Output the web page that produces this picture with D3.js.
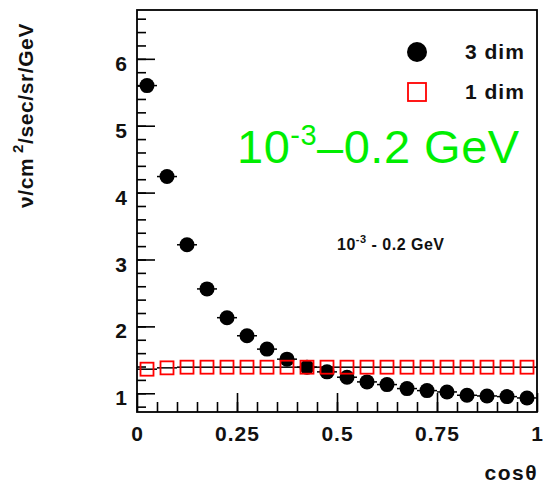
<!DOCTYPE html>
<html>
<head>
<meta charset="utf-8">
<script src="https://cdn.jsdelivr.net/npm/d3@7"></script>
<style>
  body { margin: 0; background: #fff; }
  text { font-family: "Liberation Sans", Arial, Helvetica, sans-serif; }
</style>
</head>
<body>
<div id="chart"></div>
<script>
// Plot size and margins (frame sits at x 137..537, y 10..412)
const width = 543;
const height = 484;
const margin = {left: 137, right: 6, top: 10, bottom: 72};

// bin centres of cos(theta)
const cosTheta = [0.025, 0.075, 0.125, 0.175, 0.225, 0.275, 0.325, 0.375, 0.425, 0.475,
                  0.525, 0.575, 0.625, 0.675, 0.725, 0.775, 0.825, 0.875, 0.925, 0.975];
// 3 dim flux (black points)
const flux3d = [5.60, 4.24, 3.22, 2.56, 2.13, 1.86, 1.66, 1.51, 1.39, 1.32,
                1.24, 1.17, 1.13, 1.07, 1.04, 1.02, 0.97, 0.96, 0.95, 0.93];
// 1 dim flux (red open squares)
const flux1d = [1.36, 1.38, 1.39, 1.39, 1.39, 1.39, 1.39, 1.39, 1.39, 1.39,
                1.39, 1.39, 1.39, 1.39, 1.39, 1.39, 1.39, 1.39, 1.39, 1.39];
const binHalf = 0.025;

const xTicks = [0, 0.25, 0.5, 0.75, 1];
const xTickLabels = ["0", "0.25", "0.5", "0.75", "1"];
const yTicks = [1, 2, 3, 4, 5, 6];

const svg = d3.select("#chart")
  .append("svg")
  .attr("width", width)
  .attr("height", height);

// scales
const x = d3.scaleLinear()
  .domain([0, 1])
  .range([margin.left, width - margin.right]);

const y = d3.scaleLinear()
  .domain([0.72, 6.73])
  .range([height - margin.bottom, margin.top]);

/*
  Axes
*/

// minor ticks on y
svg.append("g")
  .attr("transform", `translate(${margin.left},0)`)
  .call(d3.axisLeft(y).tickValues(d3.range(0.8, 6.7, 0.2)).tickSize(-9).tickFormat(""))
  .call(g => g.select(".domain").remove())
  .selectAll("line").attr("stroke-width", 1.6);

// major ticks on y with labels
svg.append("g")
  .attr("transform", `translate(${margin.left},0)`)
  .call(d3.axisLeft(y).tickValues(yTicks).tickSize(-18).tickPadding(10).tickFormat(d3.format("d")))
  .call(g => g.select(".domain").remove())
  .call(g => g.selectAll("line").attr("stroke-width", 1.6))
  .call(g => g.selectAll("text")
    .attr("font-size", "21px").attr("font-weight", "bold").attr("fill", "#111")
    .attr("dy", "0.55em"));

// minor ticks on x
svg.append("g")
  .attr("transform", `translate(0,${height - margin.bottom})`)
  .call(d3.axisBottom(x).tickValues(d3.range(0.05, 1, 0.05)).tickSize(-10).tickFormat(""))
  .call(g => g.select(".domain").remove())
  .selectAll("line").attr("stroke-width", 1.6);

// major ticks on x with labels
svg.append("g")
  .attr("transform", `translate(0,${height - margin.bottom})`)
  .call(d3.axisBottom(x).tickValues(xTicks).tickSize(-19).tickPadding(14)
    .tickFormat((d, i) => xTickLabels[i]))
  .call(g => g.select(".domain").remove())
  .call(g => g.selectAll("line").attr("stroke-width", 1.6))
  .call(g => g.selectAll("text")
    .attr("font-size", "21px").attr("font-weight", "bold").attr("fill", "#111")
    .attr("letter-spacing", "1px"));

// frame
svg.append("rect")
  .attr("x", margin.left)
  .attr("y", margin.top)
  .attr("width", width - margin.left - margin.right)
  .attr("height", height - margin.top - margin.bottom)
  .attr("fill", "none")
  .attr("stroke", "#000")
  .attr("stroke-width", 1.8);

// axis titles
svg.append("text")
  .attr("transform", "translate(33,208) rotate(-90)")
  .attr("font-size", "21px")
  .attr("font-weight", "bold")
  .attr("fill", "#111")
  .attr("letter-spacing", "0.6px")
  .html('ν/cm<tspan font-size="15px" dy="-10"> 2</tspan><tspan dy="10">/sec/sr/GeV</tspan>');

svg.append("text")
  .attr("x", 538)
  .attr("y", 480)
  .attr("text-anchor", "end")
  .attr("font-size", "21px")
  .attr("font-weight", "bold")
  .attr("fill", "#111")
  .attr("letter-spacing", "1.5px")
  .text("cosθ");

/*
  Data points
*/

const pts3d = cosTheta.map((c, i) => ({c: c, v: flux3d[i]}));
const pts1d = cosTheta.map((c, i) => ({c: c, v: flux1d[i]}));

// horizontal bin-width bars
svg.selectAll(".err3")
  .data(pts3d)
  .enter()
  .append("line")
  .attr("class", "err3")
  .attr("x1", d => x(d.c - binHalf))
  .attr("x2", d => x(d.c + binHalf))
  .attr("y1", d => y(d.v))
  .attr("y2", d => y(d.v))
  .attr("stroke", "#000")
  .attr("stroke-width", 1.5);

svg.selectAll(".dot3")
  .data(pts3d)
  .enter()
  .append("circle")
  .attr("class", "dot3")
  .attr("cx", d => x(d.c))
  .attr("cy", d => y(d.v))
  .attr("r", 7.5)
  .attr("fill", "#000");

svg.selectAll(".err1")
  .data(pts1d)
  .enter()
  .append("line")
  .attr("class", "err1")
  .attr("x1", d => x(d.c - binHalf))
  .attr("x2", d => x(d.c + binHalf))
  .attr("y1", d => y(d.v))
  .attr("y2", d => y(d.v))
  .attr("stroke", "#000")
  .attr("stroke-width", 1.5);

svg.selectAll(".sq1")
  .data(pts1d)
  .enter()
  .append("rect")
  .attr("class", "sq1")
  .attr("x", d => x(d.c) - 6.5)
  .attr("y", d => y(d.v) - 6.5)
  .attr("width", 13)
  .attr("height", 13)
  .attr("fill", "none")
  .attr("stroke", "#ff0000")
  .attr("stroke-width", 1.8);

/*
  Legend and labels
*/

svg.append("circle")
  .attr("cx", 417).attr("cy", 52).attr("r", 10)
  .attr("fill", "#000");
svg.append("rect")
  .attr("x", 408).attr("y", 83).attr("width", 18).attr("height", 18)
  .attr("fill", "none").attr("stroke", "#ff0000").attr("stroke-width", 1.8);

svg.append("text")
  .attr("x", 465).attr("y", 59)
  .attr("font-size", "21px").attr("font-weight", "bold").attr("fill", "#111")
  .attr("letter-spacing", "1px")
  .text("3 dim");
svg.append("text")
  .attr("x", 465).attr("y", 99)
  .attr("font-size", "21px").attr("font-weight", "bold").attr("fill", "#111")
  .attr("letter-spacing", "1px")
  .text("1 dim");

// big green energy range label
svg.append("text")
  .attr("x", 237).attr("y", 163)
  .attr("font-size", "47px").attr("fill", "#00ee00")
  .attr("letter-spacing", "0.5px")
  .html('10<tspan font-size="29px" dy="-18">-3</tspan><tspan dy="18">–0.2 GeV</tspan>');

// small black energy range label
svg.append("text")
  .attr("x", 337).attr("y", 250)
  .attr("font-size", "16px").attr("font-weight", "bold").attr("fill", "#111")
  .attr("letter-spacing", "0.5px")
  .html('10<tspan font-size="11px" dy="-7">-3</tspan><tspan dy="7"> - 0.2 GeV</tspan>');
</script>
</body>
</html>
